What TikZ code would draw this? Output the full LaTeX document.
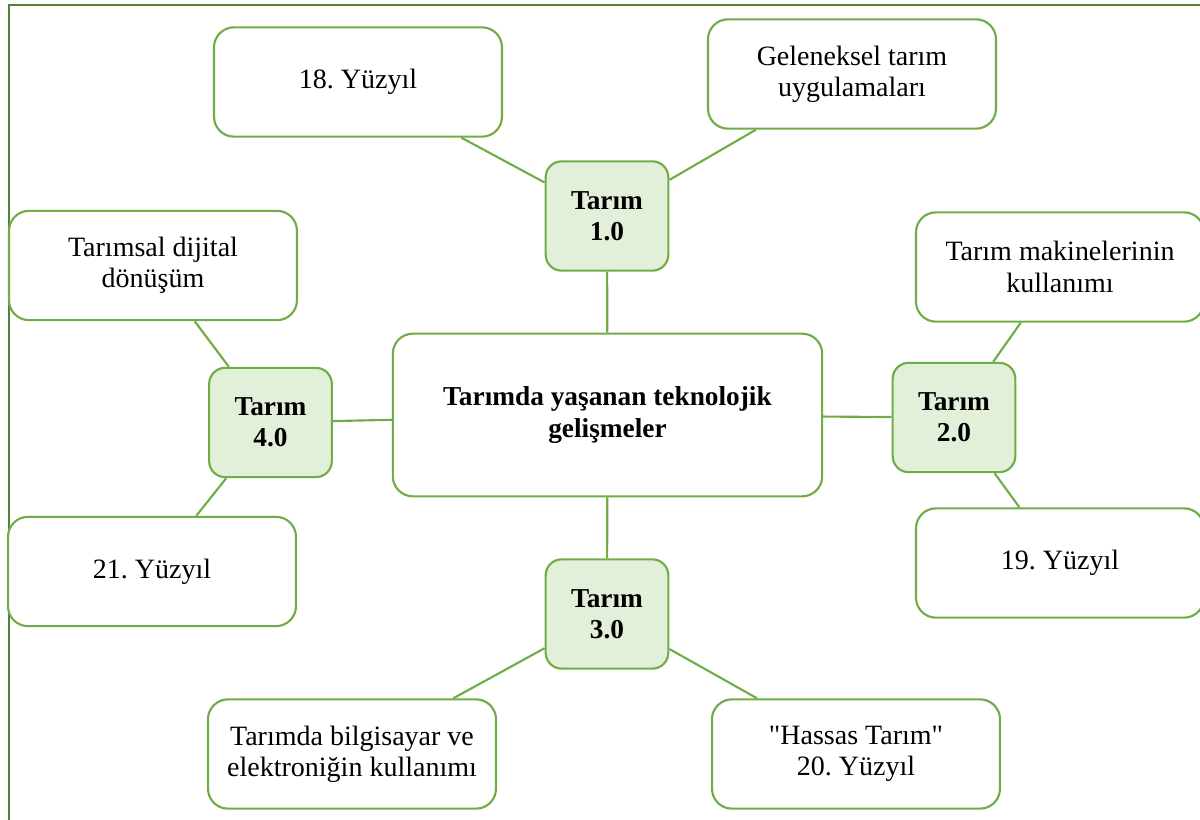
\documentclass[tikz,border=0pt]{standalone}
\usepackage{fontspec}
\setmainfont{Liberation Serif}[Ligatures=TeXOff]
\usepackage{xcolor}
\usetikzlibrary{positioning}
\frenchspacing

\definecolor{yesil}{HTML}{70AD47}
\definecolor{koyuyesil}{HTML}{538135}
\definecolor{acikyesil}{HTML}{E2EFD9}

\begin{document}
\begin{tikzpicture}[x=0.75pt, y=-0.75pt]
  \tikzstyle{kutu}=[rectangle, draw=yesil, line width=1.6pt, rounded corners=15pt, fill=white, align=center, inner sep=0pt, font=\fontsize{21}{23.5}\selectfont]
  \tikzstyle{genis}=[minimum width=216pt, minimum height=82pt]
  \tikzstyle{donem}=[fill=acikyesil, rounded corners=12pt, minimum width=92pt, minimum height=82pt, font=\fontsize{20.5}{23}\selectfont\bfseries]
  \tikzstyle{bag}=[draw=yesil, line width=1.6pt]

  \useasboundingbox (0,0) rectangle (1200,820);
  % Çerçeve
  \draw[koyuyesil, line width=1.5pt] (9,820) -- (9,5) -- (1200,5);

  % Merkez
  \node[kutu, minimum width=322pt, minimum height=122pt, font=\fontsize{20.5}{24}\selectfont\bfseries] (merkez) at (607.5,415) {Tarımda yaşanan teknolojik\\gelişmeler};

  % Dönemler
  \node[kutu, donem] (t1) at (607,216) {Tarım\\1.0};
  \node[kutu, donem] (t2) at (954,417.5) {Tarım\\2.0};
  \node[kutu, donem] (t3) at (607,614) {Tarım\\3.0};
  \node[kutu, donem] (t4) at (270.5,422.5) {Tarım\\4.0};

  % Açıklamalar
  \node[kutu, genis] (y18) at (358,82) {18. Yüzyıl};
  \node[kutu, genis] (gelen) at (852,74) {Geleneksel tarım\\uygulamaları};
  \node[kutu, genis] (makine) at (1060,267) {Tarım makinelerinin\\kullanımı};
  \node[kutu, genis] (y19) at (1060,563) {19. Yüzyıl};
  \node[kutu, genis] (bilgi) at (352,754) {Tarımda bilgisayar ve\\elektroniğin kullanımı};
  \node[kutu, genis] (hassas) at (856,754) {"Hassas Tarım"\\20. Yüzyıl};
  \node[kutu, genis] (dijital) at (153,265.5) {Tarımsal dijital\\dönüşüm};
  \node[kutu, genis] (y21) at (152,571.5) {21. Yüzyıl};

  % Bağlantılar
  \draw[bag] (t1) -- (merkez);
  \draw[bag] (t2) -- (merkez);
  \draw[bag] (t3) -- (merkez);
  \draw[bag] (t4) -- (merkez);
  \draw[bag] (y18) -- (t1);
  \draw[bag] (gelen) -- (t1);
  \draw[bag] (makine) -- (t2);
  \draw[bag] (y19) -- (t2);
  \draw[bag] (bilgi) -- (t3);
  \draw[bag] (hassas) -- (t3);
  \draw[bag] (dijital) -- (t4);
  \draw[bag] (y21) -- (t4);
\end{tikzpicture}
\end{document}
